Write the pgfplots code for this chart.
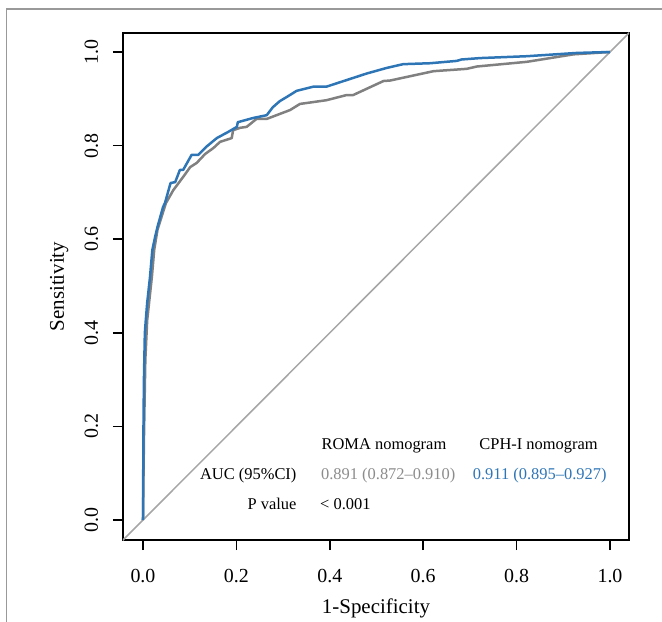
\documentclass[border=0pt]{standalone}
\usepackage{pgfplots}
\pgfplotsset{compat=1.18}
\usepackage{fontspec}
\setmainfont{Liberation Serif}

\definecolor{cphblue}{HTML}{2E75B6}
\definecolor{romagray}{HTML}{808080}
\definecolor{diaggray}{HTML}{A6A6A6}
\definecolor{txtgray}{HTML}{8C8C8C}

\begin{document}
\begin{tikzpicture}
  % page frame: 662 x 622 px, plot box lower left at (123,540)
  \path[use as bounding box] (-123bp,-82bp) rectangle (539bp,540bp);
  \draw[gray!80, line width=1.2bp] (-116.5bp,-82bp) -- (-116.5bp,531bp) -- (539bp,531bp);
  \begin{axis}[
      at={(0,0)}, anchor=south west,
      scale only axis,
      width=506bp, height=507bp,
      xmin=-0.0428, xmax=1.0407,
      ymin=-0.0427, ymax=1.0406,
      axis line style={line width=2.2bp},
      xtick={0,0.2,0.4,0.6,0.8,1.0},
      ytick={0,0.2,0.4,0.6,0.8,1.0},
      xtick pos=bottom, ytick pos=left,
      tick align=outside,
      major tick length=10bp,
      tick style={black, line width=1.5bp},
      xticklabel={\pgfmathprintnumber[fixed,fixed zerofill,precision=1]{\tick}},
      yticklabel={\pgfmathprintnumber[fixed,fixed zerofill,precision=1]{\tick}},
      /pgf/number format/assume math mode=true,
      ticklabel style={font=\fontsize{20}{24}\selectfont},
      xticklabel style={anchor=base, yshift=-32bp},
      yticklabel style={rotate=90, anchor=base, yshift=15bp},
      xlabel={1-Specificity},
      ylabel={Sensitivity},
      label style={font=\fontsize{21}{25}\selectfont},
      xlabel style={at={(axis description cs:0.5,0)}, anchor=base, yshift=-73bp},
      ylabel style={at={(axis description cs:0,0.5)}, anchor=base, yshift=59bp},
      clip=true,
    ]
    % reference line
    \addplot[diaggray, line width=1.5bp] coordinates {(-0.06,-0.06) (1.06,1.06)};
    % ROMA nomogram
    \addplot[romagray, line width=2.5bp, line join=round] coordinates {
      (0,0) (0.002,0.171) (0.005,0.342) (0.009,0.427) (0.019,0.519)
      (0.024,0.577) (0.031,0.620) (0.049,0.677) (0.065,0.705) (0.086,0.733)
      (0.101,0.754) (0.115,0.763) (0.133,0.782) (0.151,0.795) (0.165,0.808)
      (0.190,0.816) (0.193,0.833) (0.208,0.838) (0.222,0.840) (0.243,0.857)
      (0.265,0.857) (0.286,0.865) (0.315,0.876) (0.336,0.889) (0.393,0.897)
      (0.436,0.908) (0.450,0.908) (0.515,0.938) (0.529,0.939) (0.622,0.959)
      (0.693,0.964) (0.715,0.969) (0.822,0.979) (0.922,0.995) (1,1)
    };
    % CPH-I nomogram
    \addplot[cphblue, line width=2.5bp, line join=round] coordinates {
      (0,0) (0.001,0.192) (0.002,0.299) (0.004,0.400) (0.006,0.427)
      (0.009,0.464) (0.015,0.519) (0.020,0.577) (0.026,0.605) (0.031,0.626)
      (0.043,0.669) (0.047,0.677) (0.059,0.720) (0.069,0.722) (0.079,0.748)
      (0.086,0.748) (0.104,0.780) (0.118,0.780) (0.135,0.797) (0.158,0.816)
      (0.182,0.829) (0.201,0.840) (0.203,0.850) (0.236,0.859) (0.265,0.865)
      (0.278,0.882) (0.293,0.895) (0.308,0.904) (0.321,0.912) (0.329,0.917)
      (0.365,0.926) (0.393,0.926) (0.436,0.940) (0.479,0.954) (0.522,0.966)
      (0.557,0.974) (0.615,0.976) (0.672,0.981) (0.682,0.984) (0.722,0.987)
      (0.822,0.991) (0.929,0.998) (1,1)
    };
    \begin{scope}[every node/.style={font=\fontsize{16.5}{20}\selectfont, inner sep=0pt}]
      \node[anchor=base] at (axis cs:0.516,0.1506) {ROMA nomogram};
      \node[anchor=base] at (axis cs:0.847,0.1506) {CPH-I nomogram};
      \node[anchor=base east] at (axis cs:0.329,0.0865) {AUC (95\%CI)};
      \node[anchor=base west, text=txtgray] at (axis cs:0.381,0.0865) {0.891 (0.872–0.910)};
      \node[anchor=base west, text=cphblue] at (axis cs:0.706,0.0865) {0.911 (0.895–0.927)};
      \node[anchor=base east] at (axis cs:0.329,0.0224) {P value};
      \node[anchor=base west] at (axis cs:0.379,0.0224) {< 0.001};
    \end{scope}
  \end{axis}
\end{tikzpicture}
\end{document}
